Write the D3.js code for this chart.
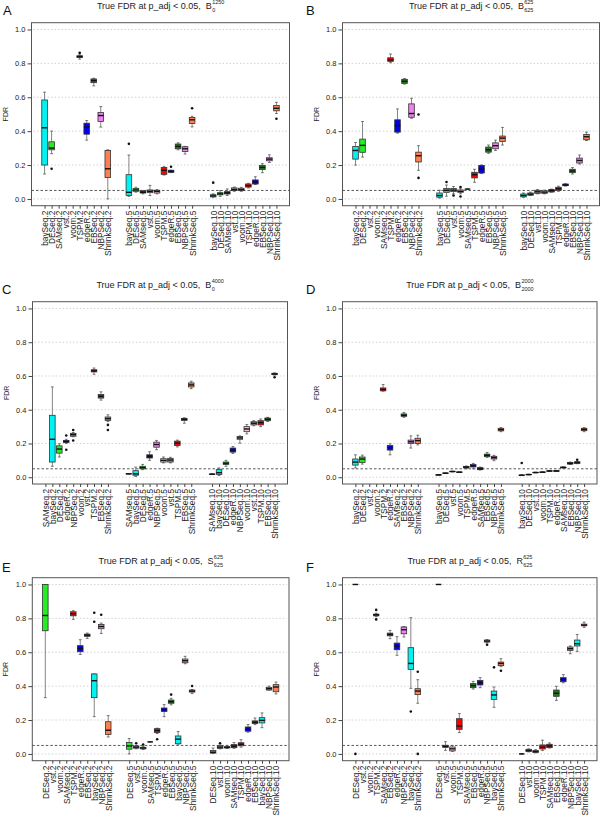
<!DOCTYPE html>
<html><head><meta charset="utf-8">
<script src="https://cdn.jsdelivr.net/npm/d3@7"></script>
<style>body{margin:0;background:#fff} text{font-family:"Liberation Sans",Arial,Helvetica,sans-serif}</style>
</head><body><svg id="c" width="600" height="817"></svg>
<script>
const reps = ["2","5","10"];
const yTicks = [0, 0.2, 0.4, 0.6, 0.8, 1.0];
const cutoff = 0.05;

// ---- Panel A: B_0^1250 ----
const methodsA = ["baySeq","DESeq","SAMseq","vst","voom","TSPM","edgeR","EBSeq","NBPSeq","ShrinkSeq"];
const statsA = [
 [0.147,0.20,0.42,0.584,0.63],[0.267,0.29,0.30,0.337,0.40],null,null,null,
 [0.825,0.835,0.84,0.845,0.855],[0.347,0.382,0.424,0.447,0.463],[0.667,0.686,0.698,0.708,0.712],[0.424,0.457,0.492,0.51,0.545],[0.0,0.127,0.178,0.286,0.29],
 [0.015,0.021,0.039,0.143,0.259],[0.04,0.045,0.053,0.061,0.069],[0.03,0.035,0.039,0.047,0.05],[0.02,0.037,0.045,0.053,0.08],[0.03,0.035,0.045,0.051,0.055],
 [0.141,0.145,0.169,0.186,0.19],[0.155,0.157,0.163,0.169,0.17],[0.29,0.296,0.31,0.324,0.331],[0.265,0.28,0.296,0.308,0.31],[0.425,0.445,0.467,0.48,0.488],
 [0.01,0.012,0.018,0.025,0.03],[0.015,0.024,0.03,0.037,0.049],[0.02,0.029,0.036,0.043,0.059],[0.045,0.049,0.055,0.065,0.07],[0.045,0.049,0.055,0.063,0.068],
 [0.065,0.07,0.078,0.088,0.092],[0.085,0.088,0.10,0.112,0.131],[0.155,0.173,0.186,0.198,0.208],[0.215,0.225,0.235,0.243,0.26],[0.504,0.52,0.535,0.551,0.57]
];
const outA = [
 [],[0.178],[],[],[],[0.862],[],[],[],[],
 [0.325],[],[],[],[],[],[0.19],[],[],[0.535],
 [0.096],[],[],[],[],[],[],[],[],[0.473]
];

// ---- Panel B: B_625^625 ----
const methodsB = ["baySeq","DESeq","vst","voom","SAMseq","TSPM","edgeR","EBSeq","NBPSeq","ShrinkSeq"];
const statsB = [
 [0.2,0.235,0.286,0.31,0.333],[0.247,0.275,0.316,0.353,0.457],null,null,null,
 [0.804,0.812,0.82,0.833,0.855],[0.388,0.394,0.433,0.467,0.531],[0.678,0.682,0.694,0.706,0.71],[0.476,0.482,0.504,0.561,0.594],[0.169,0.218,0.255,0.276,0.314],
 [0.005,0.01,0.02,0.035,0.051],[0.016,0.039,0.051,0.061,0.082],[0.03,0.043,0.052,0.061,0.073],[0.03,0.039,0.045,0.053,0.063],[0.058,0.058,0.058,0.058,0.058],
 [0.098,0.124,0.143,0.157,0.175],[0.15,0.153,0.176,0.198,0.2],[0.269,0.276,0.29,0.306,0.318],[0.286,0.296,0.314,0.331,0.347],[0.318,0.339,0.359,0.371,0.422],
 [0.01,0.012,0.02,0.029,0.035],[0.02,0.022,0.028,0.035,0.04],[0.03,0.033,0.042,0.051,0.055],[0.03,0.033,0.04,0.047,0.052],[0.04,0.041,0.05,0.055,0.058],
 [0.045,0.051,0.06,0.069,0.075],[0.076,0.078,0.082,0.088,0.09],[0.147,0.155,0.165,0.175,0.185],[0.206,0.212,0.227,0.241,0.259],[0.345,0.349,0.367,0.38,0.394]
];
const outB = [
 [],[],[],[],[],[],[],[],[],[0.498,0.124],
 [],[0.1],[0.02],[0.07,0.014],[],[],[],[],[],[],
 [],[],[],[],[],[],[],[],[],[]
];

// ---- Panel C: B_0^4000 ----
const methodsC = ["SAMseq","baySeq","DESeq","edgeR","NBPSeq","voom","vst","TSPM","EBSeq","ShrinkSeq"];
const statsC = [
 null,[0.065,0.09,0.225,0.367,0.535],[0.12,0.143,0.167,0.186,0.198],[0.2,0.206,0.212,0.218,0.225],[0.24,0.243,0.252,0.26,0.265],
 null,null,[0.61,0.624,0.63,0.637,0.647],[0.457,0.469,0.48,0.49,0.506],[0.33,0.337,0.347,0.357,0.37],
 [0.02,0.02,0.02,0.021,0.022],[0.005,0.012,0.02,0.039,0.06],[0.045,0.05,0.057,0.065,0.076],[0.1,0.114,0.124,0.133,0.151],[0.163,0.178,0.194,0.208,0.218],
 [0.085,0.09,0.1,0.11,0.12],[0.085,0.09,0.102,0.112,0.118],[0.18,0.188,0.202,0.214,0.22],[0.32,0.337,0.343,0.349,0.352],[0.525,0.535,0.547,0.559,0.569],
 [0.017,0.018,0.018,0.019,0.02],[0.01,0.016,0.027,0.045,0.055],[0.065,0.075,0.083,0.09,0.1],[0.141,0.149,0.161,0.173,0.182],[0.202,0.225,0.233,0.241,0.245],
 [0.257,0.27,0.286,0.3,0.312],[0.305,0.31,0.32,0.329,0.335],[0.3,0.31,0.323,0.335,0.345],[0.33,0.335,0.343,0.351,0.355],[0.605,0.608,0.612,0.616,0.618]
];
const outC = [
 [],[],[],[0.247,0.163],[0.28,0.218],[],[],[],[],[0.31,0.28],
 [],[],[],[],[],[],[],[],[],[],
 [],[],[],[],[],[],[],[],[],[0.592]
];

// ---- Panel D: B_2000^2000 ----
const methodsD = ["baySeq","DESeq","vst","voom","TSPM","edgeR","SAMseq","EBSeq","NBPSeq","ShrinkSeq"];
const statsD = [
 [0.055,0.072,0.09,0.108,0.133],[0.078,0.088,0.108,0.12,0.131],null,null,[0.51,0.512,0.52,0.529,0.549],
 [0.133,0.161,0.176,0.188,0.198],null,[0.355,0.361,0.367,0.375,0.384],[0.173,0.2,0.21,0.22,0.245],[0.192,0.2,0.217,0.231,0.249],
 [0.012,0.013,0.014,0.015,0.016],[0.022,0.023,0.024,0.025,0.026],[0.032,0.033,0.034,0.035,0.036],[0.028,0.029,0.03,0.031,0.032],[0.05,0.055,0.06,0.064,0.067],
 [0.05,0.061,0.068,0.075,0.082],[0.043,0.045,0.05,0.057,0.06],[0.118,0.122,0.13,0.137,0.147],[0.098,0.108,0.116,0.124,0.13],[0.27,0.275,0.282,0.29,0.294],
 [0.01,0.011,0.012,0.013,0.014],[0.014,0.015,0.016,0.017,0.018],[0.026,0.027,0.028,0.029,0.03],[0.028,0.029,0.03,0.031,0.032],[0.035,0.036,0.037,0.038,0.039],
 [0.035,0.036,0.037,0.039,0.04],[0.054,0.056,0.058,0.06,0.062],[0.076,0.078,0.082,0.088,0.09],[0.08,0.082,0.087,0.092,0.094],[0.27,0.276,0.283,0.29,0.294]
];
const outD = [
 [],[],[],[],[],[],[],[],[],[],
 [],[],[],[],[],[],[],[],[],[],
 [0.084],[],[],[],[],[],[],[],[0.104],[]
];

// ---- Panel E: S_625^625 ----
const methodsE = ["DESeq","vst","voom","SAMseq","TSPM","edgeR","EBSeq","baySeq","NBPSeq","ShrinkSeq"];
const statsE = [
 [0.332,0.727,0.817,1.0,1.0],null,null,null,[0.794,0.815,0.827,0.839,0.845],
 [0.587,0.603,0.623,0.639,0.674],[0.682,0.694,0.701,0.707,0.713],[0.22,0.332,0.432,0.472,0.472],[0.711,0.739,0.752,0.764,0.772],[0.1,0.115,0.14,0.19,0.226],
 [0.0,0.028,0.047,0.067,0.091],[0.03,0.034,0.04,0.047,0.05],[0.026,0.03,0.035,0.039,0.045],[0.071,0.071,0.071,0.071,0.071],[0.12,0.126,0.138,0.149,0.152],
 [0.22,0.25,0.261,0.271,0.291],[0.29,0.299,0.308,0.318,0.328],[0.057,0.06,0.087,0.106,0.132],[0.532,0.538,0.55,0.56,0.576],[0.356,0.365,0.371,0.377,0.38],
 [0.003,0.005,0.01,0.02,0.035],[0.03,0.033,0.04,0.048,0.052],[0.032,0.035,0.039,0.043,0.05],[0.033,0.037,0.045,0.055,0.067],[0.04,0.048,0.057,0.066,0.084],
 [0.128,0.134,0.145,0.159,0.173],[0.173,0.179,0.187,0.195,0.212],[0.155,0.183,0.198,0.214,0.242],[0.377,0.377,0.385,0.393,0.4],[0.354,0.367,0.395,0.409,0.424]
];
const outE = [
 [],[],[],[],[],[],[],[0.833,0.78],[0.821],[],
 [],[0.063],[0.056],[],[0.087],[],[0.35],[],[],[0.401],
 [],[0.063],[],[],[],[],[],[],[],[]
];

// ---- Panel F: R_625^625 ----
const methodsF = ["DESeq","vst","voom","TSPM","SAMseq","EBSeq","edgeR","NBPSeq","baySeq","ShrinkSeq"];
const statsF = [
 [1,1,1,1,1],null,null,[0.81,0.815,0.821,0.825,0.83],null,
 [0.68,0.697,0.705,0.713,0.729],[0.582,0.615,0.637,0.654,0.692],[0.69,0.709,0.733,0.749,0.752],[0.387,0.499,0.534,0.627,0.804],[0.299,0.35,0.371,0.385,0.438],
 [1,1,1,1,1],[0.021,0.038,0.045,0.051,0.072],[0.015,0.018,0.03,0.041,0.05],[0.126,0.145,0.165,0.208,0.238],null,
 [0.383,0.391,0.403,0.415,0.428],[0.391,0.407,0.42,0.434,0.45],[0.655,0.66,0.666,0.672,0.675],[0.275,0.322,0.348,0.371,0.395],[0.515,0.521,0.534,0.542,0.562],
 [0,0,0,0,0],[0.012,0.014,0.02,0.027,0.03],[0.006,0.008,0.014,0.021,0.025],[0.02,0.029,0.04,0.053,0.081],[0.035,0.037,0.047,0.057,0.065],
 [0.316,0.34,0.358,0.377,0.399],[0.42,0.426,0.44,0.45,0.468],[0.591,0.611,0.621,0.631,0.637],[0.605,0.637,0.65,0.672,0.705],[0.747,0.756,0.76,0.766,0.778]
];
const outF = [
 [0.0],[],[],[0.85,0.794],[],[],[],[],[0.25],[0.485,0.0],
 [],[],[],[],[],[],[],[0.644],[0.511],[0.491],
 [],[],[],[],[],[],[],[],[],[]
];

const colors = {
 baySeq:"#00F2F2", DESeq:"#22EE22", SAMseq:"#8B1A1A", vst:"#9E9E9E", voom:"#F4C2C8",
 TSPM:"#FF0000", edgeR:"#0000EE", EBSeq:"#1E7B1E", NBPSeq:"#EE82EE", ShrinkSeq:"#FF7F50"
};

const panels = [
 {letter:"A", methods:methodsA, stats:statsA, out:outA, sym:"B", sup:"1250", sub:"0", x0:31.5, x1:289.5, y0:22.7, y1:205.7, lx:3, ly:15},
 {letter:"B", methods:methodsB, stats:statsB, out:outB, sym:"B", sup:"625", sub:"625", x0:342.5, x1:599.5, y0:22.7, y1:205.7, lx:306, ly:15},
 {letter:"C", methods:methodsC, stats:statsC, out:outC, sym:"B", sup:"4000", sub:"0", x0:32.5, x1:287.5, y0:301.7, y1:484, lx:2, ly:294},
 {letter:"D", methods:methodsD, stats:statsD, out:outD, sym:"B", sup:"2000", sub:"2000", x0:342.5, x1:597, y0:301.7, y1:484, lx:306, ly:294},
 {letter:"E", methods:methodsE, stats:statsE, out:outE, sym:"S", sup:"625", sub:"625", x0:32.3, x1:289, y0:577.7, y1:760.7, lx:2, ly:572},
 {letter:"F", methods:methodsF, stats:statsF, out:outF, sym:"R", sup:"625", sub:"625", x0:342.5, x1:597, y0:577.7, y1:760.7, lx:306, ly:572}
];

const svg = d3.select("#c");

panels.forEach(p => {
  const labels = [], pos = [];
  reps.forEach((r, g) => p.methods.forEach((m, i) => { labels.push(m + "." + r); pos.push(g * 12 + i + 1); }));
  const x = d3.scaleLinear().domain([-0.86, 35.86]).range([p.x0, p.x1]);
  const y = d3.scaleLinear().domain([-0.04, 1.04]).range([p.y1, p.y0]);
  const g = svg.append("g");
  const unit = x(1) - x(0);
  const bw = unit * 0.8;

  // grid
  g.selectAll("line.grid").data(yTicks).enter().append("line")
    .attr("x1", p.x0 + 2).attr("x2", p.x1 - 2)
    .attr("y1", d => y(d)).attr("y2", d => y(d))
    .attr("stroke", "#c8c8c8").attr("stroke-width", 0.8).attr("stroke-dasharray", "1.5,2");
  // cutoff line
  g.append("line").attr("x1", p.x0).attr("x2", p.x1).attr("y1", y(cutoff)).attr("y2", y(cutoff))
    .attr("stroke", "#111").attr("stroke-width", 0.7).attr("stroke-dasharray", "2.5,2");

  // boxes
  const items = labels.map((l, k) => ({label: l, method: l.split(".")[0], pos: pos[k], s: p.stats[k], o: p.out[k]}));
  items.forEach(d => {
    const cx = x(d.pos);
    if (d.s) {
      const [lo, q1, md, q3, hi] = d.s;
      const bg = g.append("g");
      bg.append("line").attr("x1", cx).attr("x2", cx).attr("y1", y(hi)).attr("y2", y(q3)).attr("stroke", "#666").attr("stroke-width", 0.8);
      bg.append("line").attr("x1", cx).attr("x2", cx).attr("y1", y(q1)).attr("y2", y(lo)).attr("stroke", "#666").attr("stroke-width", 0.8);
      [lo, hi].forEach(v => bg.append("line").attr("x1", cx - bw / 4).attr("x2", cx + bw / 4).attr("y1", y(v)).attr("y2", y(v)).attr("stroke", "#555").attr("stroke-width", 0.8));
      bg.append("rect").attr("x", cx - bw / 2).attr("width", bw).attr("y", y(q3)).attr("height", Math.max(0, y(q1) - y(q3)))
        .attr("fill", colors[d.method]).attr("stroke", "#333").attr("stroke-width", 0.8);
      bg.append("line").attr("x1", cx - bw / 2).attr("x2", cx + bw / 2).attr("y1", y(md)).attr("y2", y(md)).attr("stroke", "#111").attr("stroke-width", 1.4);
    }
    d.o.forEach(v => g.append("circle").attr("cx", cx).attr("cy", y(v)).attr("r", 1.3).attr("fill", "#111"));
  });

  // frame
  g.append("rect").attr("x", p.x0).attr("y", p.y0).attr("width", p.x1 - p.x0).attr("height", p.y1 - p.y0)
    .attr("fill", "none").attr("stroke", "#555").attr("stroke-width", 1);

  // y axis
  const ya = g.append("g").attr("transform", `translate(${p.x0},0)`)
    .call(d3.axisLeft(y).tickValues(yTicks).tickFormat(d3.format(".1f")).tickSize(4).tickPadding(2));
  ya.select(".domain").remove();
  ya.selectAll("line").attr("stroke", "#444");
  ya.selectAll("text").attr("font-size", 7.5).attr("fill", "#222").attr("font-family", null);

  // x axis
  const xa = g.append("g").attr("transform", `translate(0,${p.y1})`)
    .call(d3.axisBottom(x).tickValues(pos).tickFormat((d, k) => labels[k]).tickSize(3));
  xa.select(".domain").remove();
  xa.selectAll("line").attr("stroke", "#444");
  xa.selectAll("text").attr("font-size", 8.3).attr("fill", "#222").attr("font-family", null)
    .attr("transform", "rotate(-90)").attr("text-anchor", "end")
    .attr("x", -5).attr("y", 0).attr("dy", "0.35em");

  // y label
  g.append("text").attr("transform", `translate(${p.x0 - 24},${(p.y0 + p.y1) / 2}) rotate(-90)`)
    .attr("text-anchor", "middle").attr("font-size", 7).attr("fill", "#222").text("FDR");

  // title
  const tg = g.append("g");
  const t = tg.append("text").attr("font-size", 9).attr("fill", "#222").style("white-space", "pre")
    .text("True FDR at p_adj < 0.05,  " + p.sym);
  const w = t.node().getComputedTextLength();
  const s1 = tg.append("text").attr("x", w + 0.3).attr("y", -4.8).attr("font-size", 5.5).attr("fill", "#222").text(p.sup);
  const s2 = tg.append("text").attr("x", w + 0.3).attr("y", 2.6).attr("font-size", 5.5).attr("fill", "#222").text(p.sub);
  const sw = Math.max(s1.node().getComputedTextLength(), s2.node().getComputedTextLength());
  tg.attr("transform", `translate(${(p.x0 + p.x1) / 2 - (w + sw) / 2},${p.y0 - 13.8})`);

  // panel letter
  g.append("text").attr("x", p.lx).attr("y", p.ly).attr("font-size", 13).attr("fill", "#111").text(p.letter);
});
</script>
</body></html>
